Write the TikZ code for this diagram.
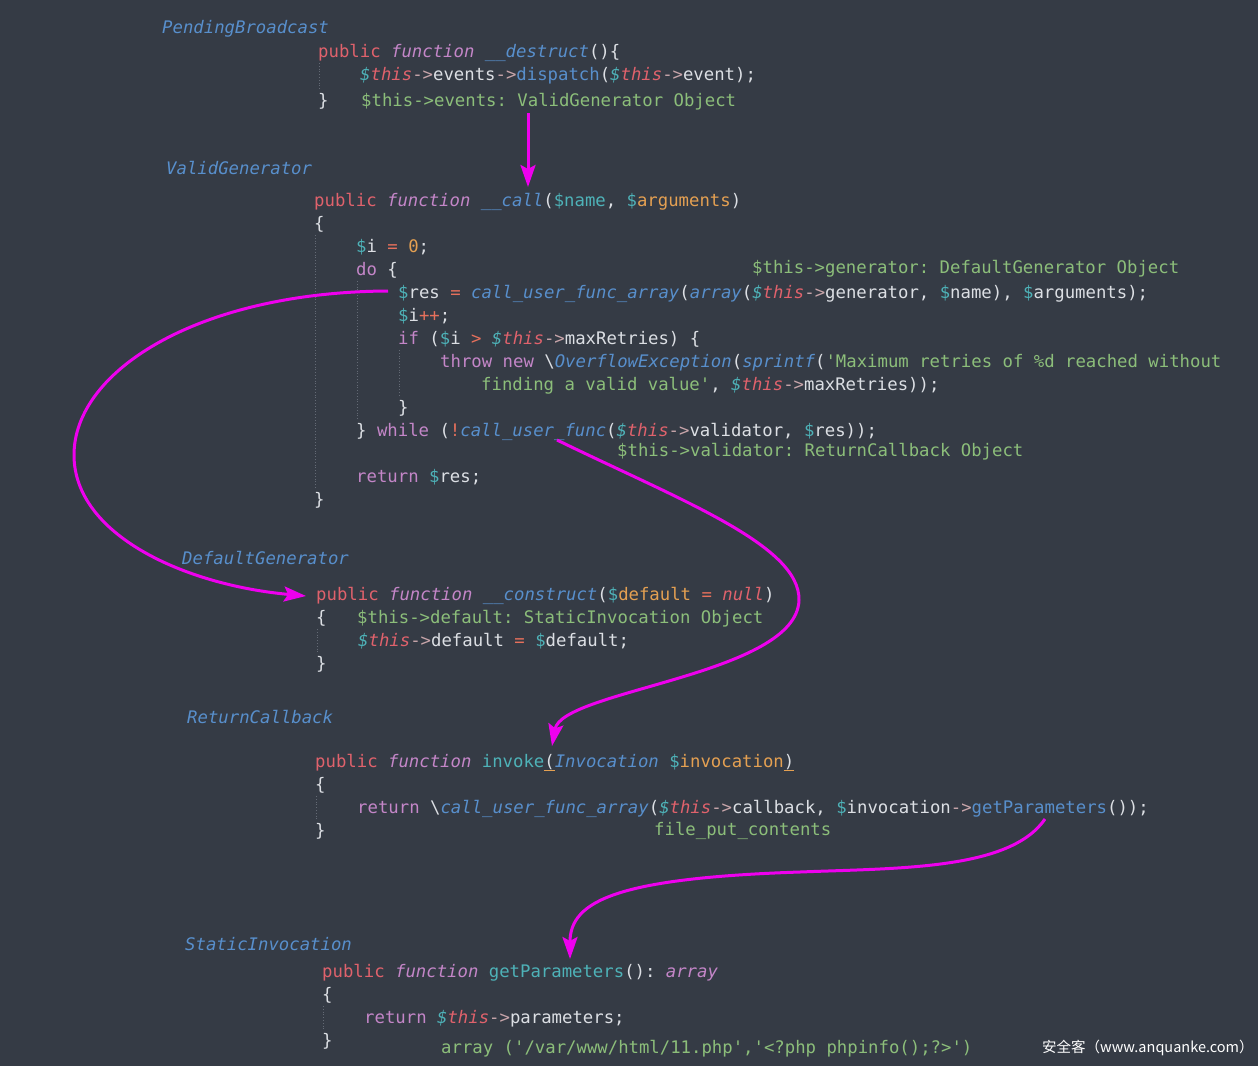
\documentclass[tikz,border=0pt]{standalone}
\usepackage{fontspec}
\usepackage{xcolor}
\usetikzlibrary{arrows.meta}
\newfontfamily\codefont{DejaVu Sans Mono}
\newfontfamily\wmfont{Noto Sans CJK SC}
\definecolor{bg}{RGB}{53,59,69}
\definecolor{cls}{RGB}{88,143,204}
\definecolor{pub}{RGB}{224,98,108}
\definecolor{fn}{RGB}{196,134,200}
\definecolor{tl}{RGB}{78,178,184}
\definecolor{org}{RGB}{228,160,82}
\definecolor{wh}{RGB}{220,223,228}
\definecolor{op}{RGB}{230,112,92}
\definecolor{ar}{RGB}{200,165,170}
\definecolor{cm}{RGB}{140,190,122}
\definecolor{guide}{RGB}{100,106,117}
\definecolor{mag}{RGB}{238,0,238}
\newcommand\cC[2]{\textcolor{#1}{#2}}
\newcommand\cI[2]{\textcolor{#1}{\itshape #2}}
\newcommand\cTh{\textcolor{tl}{\itshape\$}\textcolor{pub}{\itshape this}}
\newcommand\cAr{\textcolor{ar}{->}}
\newcommand\cV[1]{\textcolor{tl}{\$}\textcolor{wh}{#1}}
\newcommand\cUl[1]{\textcolor{org}{\underline{\textcolor{wh}{#1}}}}
\begin{document}
\frenchspacing
\begin{tikzpicture}[x=1pt,y=-1pt,
  code/.style={font=\codefont\fontsize{17.3}{23}\selectfont\frenchspacing, text=wh, inner sep=0pt, anchor=base west},
  cname/.style={code, text=cls, font=\codefont\itshape\fontsize{17.3}{23}\selectfont},
  cmt/.style={code, text=cm},
  guideline/.style={draw=guide, dotted, line width=0.8pt},
  flow/.style={draw=mag, line width=3pt, -{Stealth[length=22pt,width=15pt,inset=4pt]}}]
\fill[bg] (0,0) rectangle (1258,1066);
\useasboundingbox (0,0) rectangle (1258,1066);

% indent guides
\draw[guideline] (319,63) -- (319,90);
\draw[guideline] (315,235) -- (315,489);
\draw[guideline] (357,281) -- (357,419);
\draw[guideline] (399,350) -- (399,396);
\draw[guideline] (317,629) -- (317,652);
\draw[guideline] (316,796) -- (316,819);
\draw[guideline] (323,1006) -- (323,1029);

% PendingBroadcast
\node[cname] (pbT) at (162,33) {PendingBroadcast};
\node[code] (pb1) at (318,57) {\cC{pub}{public} \cI{fn}{function} \cI{cls}{\_\_destruct}()\{};
\node[code] (pb2) at (360,80) {\cTh\cAr events\cAr\cC{cls}{dispatch}(\cTh\cAr event);};
\node[code] (pb3) at (318,106) {\}};
\node[cmt] (pbc) at (361,106) {\$this->events: ValidGenerator Object};

% ValidGenerator
\node[cname] (vgT) at (166,174) {ValidGenerator};
\node[code] (vg1) at (314,206) {\cC{pub}{public} \cI{fn}{function} \cI{cls}{\_\_call}(\cC{tl}{\$name}, \cC{tl}{\$}\cC{org}{arguments})};
\node[code] (vg2) at (314,229) {\{};
\node[code] (vg3) at (356,252) {\cV{i} \cC{op}{=} \cC{org}{0};};
\node[code] (vg4) at (356,275) {\cC{fn}{do} \{};
\node[cmt] (vgc1) at (752,273) {\$this->generator: DefaultGenerator Object};
\node[code] (vg5) at (398,298) {\cV{res} \cC{op}{=} \cI{cls}{call\_user\_func\_array}(\cI{cls}{array}(\cTh\cAr generator, \cV{name}), \cV{arguments});};
\node[code] (vg6) at (398,321) {\cV{i}\cC{op}{++};};
\node[code] (vg7) at (398,344) {\cC{fn}{if} (\cV{i} \cC{op}{>} \cTh\cAr maxRetries) \{};
\node[code] (vg8) at (440,367) {\cC{fn}{throw} \cC{fn}{new} \textbackslash\cI{cls}{OverflowException}(\cI{cls}{sprintf}(\cC{cm}{'Maximum retries of \%d reached without}};
\node[code] (vg9) at (481,390) {\cC{cm}{finding a valid value'}, \cTh\cAr maxRetries));};
\node[code] (vg10) at (398,413) {\}};
\node[code] (vg11) at (356,436) {\} \cC{fn}{while} (\cC{op}{!}\cI{cls}{call\_user\_func}(\cTh\cAr validator, \cV{res}));};
\node[cmt] (vgc2) at (617,456) {\$this->validator: ReturnCallback Object};
\node[code] (vg12) at (356,482) {\cC{fn}{return} \cV{res};};
\node[code] (vg13) at (314,505) {\}};

% DefaultGenerator
\node[cname] (dgT) at (182,564) {DefaultGenerator};
\node[code] (dg1) at (316,600) {\cC{pub}{public} \cI{fn}{function} \cI{cls}{\_\_construct}(\cC{tl}{\$}\cC{org}{default} \cC{op}{=} \cI{pub}{null})};
\node[code] (dg2) at (316,623) {\{};
\node[cmt] (dgc) at (357,623) {\$this->default: StaticInvocation Object};
\node[code] (dg3) at (358,646) {\cTh\cAr default \cC{op}{=} \cV{default};};
\node[code] (dg4) at (316,669) {\}};

% ReturnCallback
\node[cname] (rcT) at (187,723) {ReturnCallback};
\node[code] (rc1) at (315,767) {\cC{pub}{public} \cI{fn}{function} \cC{tl}{invoke}\cUl{(}\cI{cls}{Invocation} \cC{tl}{\$}\cC{org}{invocation}\cUl{)}};
\node[code] (rc2) at (315,790) {\{};
\node[code] (rc3) at (357,813) {\cC{fn}{return} \textbackslash\cI{cls}{call\_user\_func\_array}(\cTh\cAr callback, \cV{invocation}\cAr\cC{cls}{getParameters}());};
\node[code] (rc4) at (315,836) {\}};
\node[cmt] (rcc) at (654,835) {file\_put\_contents};

% StaticInvocation
\node[cname] (siT) at (185,950) {StaticInvocation};
\node[code] (si1) at (322,977) {\cC{pub}{public} \cI{fn}{function} \cC{tl}{getParameters}(): \cI{fn}{array}};
\node[code] (si2) at (322,1000) {\{};
\node[code] (si3) at (364,1023) {\cC{fn}{return} \cTh\cAr parameters;};
\node[code] (si4) at (322,1046) {\}};
\node[cmt] (sic) at (441,1053) {array ('/var/www/html/11.php','<?php phpinfo();?>')};

% watermark
\node[inner sep=0pt, anchor=base west, text=white, font=\wmfont\fontsize{14.5}{16}\selectfont] (wm) at (1042,1052) {安全客（www.anquanke.com）};

% arrows
\coordinate (a1s) at (528,113);
\coordinate (a1e) at (528,187);
\coordinate (a2s) at (388,291);
\coordinate (a2m) at (74,455);
\coordinate (a2e) at (306,596);
\coordinate (a3s) at (557,440);
\coordinate (a3m) at (799,600);
\coordinate (a3e) at (552,746);
\coordinate (a4s) at (1045,819);
\coordinate (a4m) at (800,872);
\coordinate (a4e) at (570,959);

\draw[flow] (a1s) -- (a1e);
\draw[flow] (a2s) .. controls (200,292) and (74,370) .. (a2m)
  .. controls (74,535) and (185,585) .. (a2e);
\draw[flow] (a3s) .. controls (680,500) and (800,545) .. (a3m)
  .. controls (797,675) and (562,690) .. (a3e);
\draw[flow] (a4s) .. controls (1010,870) and (900,868) .. (a4m)
  .. controls (620,878) and (570,900) .. (a4e);
\end{tikzpicture}
\end{document}
